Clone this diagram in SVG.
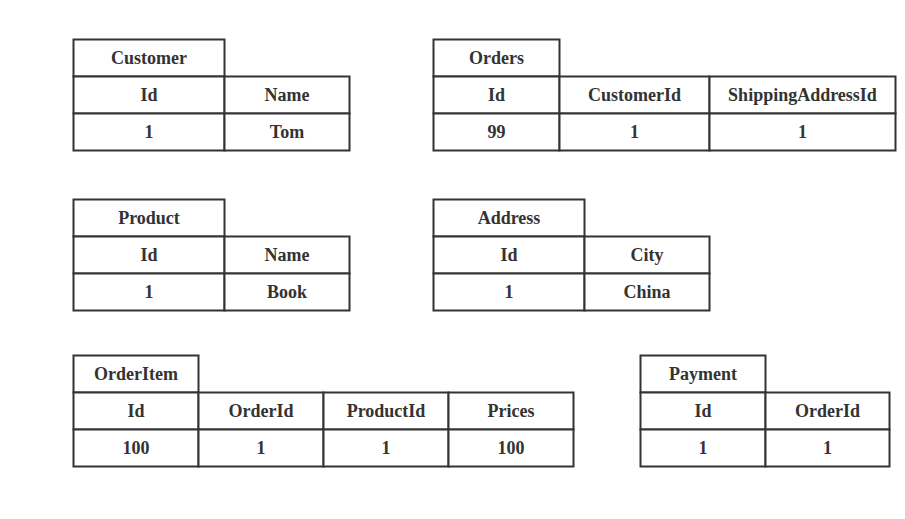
<svg xmlns="http://www.w3.org/2000/svg" width="905" height="519" viewBox="0 0 905 519">
<style>
.c{fill:#fff;stroke:#333;stroke-width:2}
.t{font-family:"Liberation Serif","Times New Roman",serif;font-weight:bold;font-size:18px;fill:#333;text-anchor:middle}
</style>
<rect width="905" height="519" fill="#fff"/>
<g id="customer">
<rect class="c" x="73.5" y="39.5" width="151" height="37"/>
<rect class="c" x="73.5" y="76.5" width="151" height="37"/>
<rect class="c" x="224.5" y="76.5" width="125" height="37"/>
<rect class="c" x="73.5" y="113.5" width="151" height="37"/>
<rect class="c" x="224.5" y="113.5" width="125" height="37"/>
<text class="t" x="149" y="64">Customer</text>
<text class="t" x="149" y="101">Id</text>
<text class="t" x="287" y="101">Name</text>
<text class="t" x="149" y="138">1</text>
<text class="t" x="287" y="138">Tom</text>
</g>
<g id="orders">
<rect class="c" x="433.5" y="39.5" width="126" height="37"/>
<rect class="c" x="433.5" y="76.5" width="126" height="37"/>
<rect class="c" x="559.5" y="76.5" width="150" height="37"/>
<rect class="c" x="709.5" y="76.5" width="186" height="37"/>
<rect class="c" x="433.5" y="113.5" width="126" height="37"/>
<rect class="c" x="559.5" y="113.5" width="150" height="37"/>
<rect class="c" x="709.5" y="113.5" width="186" height="37"/>
<text class="t" x="496.5" y="64">Orders</text>
<text class="t" x="496.5" y="101">Id</text>
<text class="t" x="634.5" y="101">CustomerId</text>
<text class="t" x="802.5" y="101">ShippingAddressId</text>
<text class="t" x="496.5" y="138">99</text>
<text class="t" x="634.5" y="138">1</text>
<text class="t" x="802.5" y="138">1</text>
</g>
<g id="product">
<rect class="c" x="73.5" y="199.5" width="151" height="37"/>
<rect class="c" x="73.5" y="236.5" width="151" height="37"/>
<rect class="c" x="224.5" y="236.5" width="125" height="37"/>
<rect class="c" x="73.5" y="273.5" width="151" height="37"/>
<rect class="c" x="224.5" y="273.5" width="125" height="37"/>
<text class="t" x="149" y="224">Product</text>
<text class="t" x="149" y="261">Id</text>
<text class="t" x="287" y="261">Name</text>
<text class="t" x="149" y="298">1</text>
<text class="t" x="287" y="298">Book</text>
</g>
<g id="address">
<rect class="c" x="433.5" y="199.5" width="151" height="37"/>
<rect class="c" x="433.5" y="236.5" width="151" height="37"/>
<rect class="c" x="584.5" y="236.5" width="125" height="37"/>
<rect class="c" x="433.5" y="273.5" width="151" height="37"/>
<rect class="c" x="584.5" y="273.5" width="125" height="37"/>
<text class="t" x="509" y="224">Address</text>
<text class="t" x="509" y="261">Id</text>
<text class="t" x="647" y="261">City</text>
<text class="t" x="509" y="298">1</text>
<text class="t" x="647" y="298">China</text>
</g>
<g id="orderitem">
<rect class="c" x="73.5" y="355.5" width="125" height="37"/>
<rect class="c" x="73.5" y="392.5" width="125" height="37"/>
<rect class="c" x="198.5" y="392.5" width="125" height="37"/>
<rect class="c" x="323.5" y="392.5" width="125" height="37"/>
<rect class="c" x="448.5" y="392.5" width="125" height="37"/>
<rect class="c" x="73.5" y="429.5" width="125" height="37"/>
<rect class="c" x="198.5" y="429.5" width="125" height="37"/>
<rect class="c" x="323.5" y="429.5" width="125" height="37"/>
<rect class="c" x="448.5" y="429.5" width="125" height="37"/>
<text class="t" x="136" y="380">OrderItem</text>
<text class="t" x="136" y="417">Id</text>
<text class="t" x="261" y="417">OrderId</text>
<text class="t" x="386" y="417">ProductId</text>
<text class="t" x="511" y="417">Prices</text>
<text class="t" x="136" y="454">100</text>
<text class="t" x="261" y="454">1</text>
<text class="t" x="386" y="454">1</text>
<text class="t" x="511" y="454">100</text>
</g>
<g id="payment">
<rect class="c" x="640.5" y="355.5" width="125" height="37"/>
<rect class="c" x="640.5" y="392.5" width="125" height="37"/>
<rect class="c" x="765.5" y="392.5" width="124" height="37"/>
<rect class="c" x="640.5" y="429.5" width="125" height="37"/>
<rect class="c" x="765.5" y="429.5" width="124" height="37"/>
<text class="t" x="703" y="380">Payment</text>
<text class="t" x="703" y="417">Id</text>
<text class="t" x="827.5" y="417">OrderId</text>
<text class="t" x="703" y="454">1</text>
<text class="t" x="827.5" y="454">1</text>
</g>
<g id="connectors"/>
</svg>
